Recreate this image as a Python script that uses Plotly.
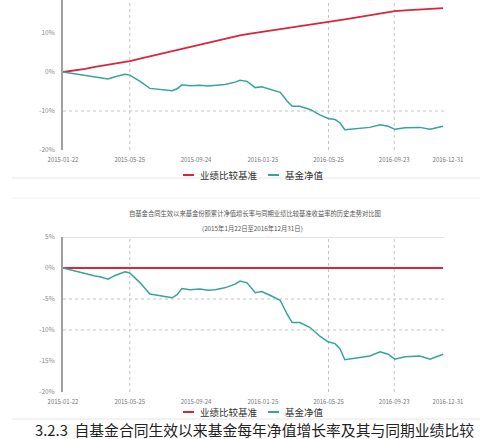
import plotly.graph_objects as go

# ---------------- data ----------------
dates = [
    "2015-01-22", "2015-02-04", "2015-02-13", "2015-03-04", "2015-03-22", "2015-03-31",
    "2015-04-15", "2015-04-28", "2015-05-16", "2015-05-25", "2015-06-13", "2015-07-01",
    "2015-07-20", "2015-08-11", "2015-08-20", "2015-08-29", "2015-09-13", "2015-10-01",
    "2015-10-16", "2015-10-29", "2015-11-16", "2015-12-05", "2015-12-14", "2015-12-27",
    "2016-01-11", "2016-01-23", "2016-02-07", "2016-02-26", "2016-03-10", "2016-03-19",
    "2016-04-02", "2016-04-21", "2016-05-09", "2016-05-24", "2016-06-06", "2016-06-15",
    "2016-06-24", "2016-07-13", "2016-08-09", "2016-08-28", "2016-09-12", "2016-09-24",
    "2016-10-13", "2016-11-09", "2016-11-28", "2016-12-22",
]
benchmark = [
    0.0, 0.2, 0.4, 0.8, 1.3, 1.5, 1.8, 2.1, 2.6, 2.8, 3.4, 4.0,
    4.6, 5.3, 5.7, 6.0, 6.4, 7.0, 7.5, 7.9, 8.5, 9.1, 9.4, 9.7,
    10.0, 10.3, 10.6, 11.0, 11.3, 11.5, 11.8, 12.2, 12.5, 12.8, 13.1, 13.3,
    13.5, 13.9, 14.5, 15.0, 15.3, 15.6, 15.8, 16.1, 16.3, 16.4,
]
fund = [
    0.0, -0.3, -0.5, -0.9, -1.3, -1.4, -1.8, -1.2, -0.6, -0.8, -2.4, -4.2,
    -4.5, -4.8, -4.3, -3.3, -3.5, -3.4, -3.6, -3.5, -3.2, -2.6, -2.1, -2.4,
    -4.0, -3.8, -4.4, -5.2, -7.5, -8.8, -8.8, -9.6, -11.0, -11.9, -12.2, -13.0,
    -14.8, -14.6, -14.2, -13.5, -13.9, -14.7, -14.3, -14.2, -14.7, -13.9,
]
benchmark_bottom = [0.0] * 46  # flat benchmark line at 0% in the lower chart

x_range = ["2015-01-22", "2016-12-31"]
tick_dates = ["2015-01-22", "2015-05-25", "2015-09-24", "2016-01-25",
              "2016-05-25", "2016-09-23", "2016-12-31"]
vgrid_dates = ["2015-05-25", "2016-05-25", "2016-09-23"]

top_ticks = [-20, -10, 0, 10]
top_tick_text = ["-20%", "-10%", "0%", "10%"]
top_hgrid = [-10]
bottom_ticks = [-20, -15, -10, -5, 0, 5]
bottom_tick_text = ["-20%", "-15%", "-10%", "-5%", "0%", "5%"]
bottom_hgrid = [-5, -10]

legend_labels = ["业绩比较基准", "基金净值"]
title_lines = ["自基金合同生效以来基金份额累计净值增长率与同期业绩比较基准收益率的历史走势对比图",
               "(2015年1月22日至2016年12月31日)"]
caption = "3.2.3  自基金合同生效以来基金每年净值增长率及其与同期业绩比较"

RED = "#d9253c"
TEAL = "#35a597"
FONT = "Noto Sans CJK SC"
W, H = 480, 439

def px(x):
    return x / W

def py(y):
    return 1 - y / H

fig = go.Figure()
fig.add_trace(go.Scatter(x=dates, y=benchmark, mode="lines", line=dict(color=RED, width=1.8),
                         name=legend_labels[0], xaxis="x", yaxis="y"))
fig.add_trace(go.Scatter(x=dates, y=fund, mode="lines", line=dict(color=TEAL, width=1.5),
                         name=legend_labels[1], xaxis="x", yaxis="y"))
fig.add_trace(go.Scatter(x=dates, y=benchmark_bottom, mode="lines", line=dict(color=RED, width=2),
                         name=legend_labels[0], xaxis="x2", yaxis="y2"))
fig.add_trace(go.Scatter(x=dates, y=fund, mode="lines", line=dict(color=TEAL, width=1.5),
                         name=legend_labels[1], xaxis="x2", yaxis="y2"))

xdom = [px(63), px(448)]
xcommon = dict(domain=xdom, range=x_range, type="date", tickvals=tick_dates,
               tickformat="%Y-%m-%d", showgrid=False, zeroline=False, showline=False,
               ticks="", tickfont=dict(size=6, color="#777", family=FONT),
               ticklabelstandoff=5, automargin=False)
ycommon = dict(showgrid=False, zeroline=False, showline=True, linecolor="#a0a0a0", linewidth=2,
               ticks="", tickfont=dict(size=6.5, color="#888", family=FONT),
               ticklabelstandoff=5, automargin=False)

fig.update_layout(
    width=W, height=H, margin=dict(l=0, r=0, t=0, b=0, autoexpand=False),
    paper_bgcolor="white", plot_bgcolor="white", showlegend=False,
    font=dict(family=FONT),
    xaxis=dict(**xcommon, anchor="y"),
    yaxis=dict(**ycommon, domain=[py(150), 1.0], range=[-20, 18.46],
               tickvals=top_ticks, ticktext=top_tick_text, anchor="x"),
    xaxis2=dict(**xcommon, anchor="y2"),
    yaxis2=dict(**ycommon, domain=[py(392), py(237)], range=[-20, 5],
                tickvals=bottom_ticks, ticktext=bottom_tick_text, anchor="x2"),
)

shapes = []
grid_line = dict(color="#c4c4c4", width=1, dash="dot")
for xa, ya in (("x", "y"), ("x2", "y2")):
    for d in vgrid_dates:
        shapes.append(dict(type="line", xref=xa, yref=ya + " domain", x0=d, x1=d, y0=0, y1=1,
                           line=grid_line, layer="below"))
for v in top_hgrid:
    shapes.append(dict(type="line", xref="x domain", yref="y", x0=0, x1=0.99, y0=v, y1=v,
                       line=grid_line, layer="below"))
for v in bottom_hgrid:
    shapes.append(dict(type="line", xref="x2 domain", yref="y2", x0=0, x1=0.99, y0=v, y1=v,
                       line=grid_line, layer="below"))
# solid top border of the lower chart
shapes.append(dict(type="line", xref="x2 domain", yref="y2", x0=0, x1=0.99, y0=5, y1=5,
                   line=dict(color="#c8c8c8", width=1), layer="below"))
# light separators of the screenshot panels
for yy, col in ((178, "#e6e6e6"), (198, "#f0f0f0"), (419, "#e6e6e6")):
    shapes.append(dict(type="line", xref="paper", yref="paper", x0=px(12), x1=1,
                       y0=py(yy), y1=py(yy), line=dict(color=col, width=1)))

annotations = []
# manual legends
for ly in (175, 412):
    shapes.append(dict(type="line", xref="paper", yref="paper", x0=px(183), x1=px(194),
                       y0=py(ly), y1=py(ly), line=dict(color=RED, width=2)))
    shapes.append(dict(type="line", xref="paper", yref="paper", x0=px(268), x1=px(279),
                       y0=py(ly), y1=py(ly), line=dict(color=TEAL, width=2)))
    annotations.append(dict(xref="paper", yref="paper", x=px(198), y=py(ly), text=legend_labels[0],
                            showarrow=False, xanchor="left", yanchor="middle",
                            font=dict(size=9.5, color="#333", family=FONT)))
    annotations.append(dict(xref="paper", yref="paper", x=px(283), y=py(ly), text=legend_labels[1],
                            showarrow=False, xanchor="left", yanchor="middle",
                            font=dict(size=9.5, color="#333", family=FONT)))
# lower chart title
annotations.append(dict(xref="paper", yref="paper", x=px(255), y=py(213), text=title_lines[0],
                        showarrow=False, xanchor="center", yanchor="middle",
                        font=dict(size=6.3, color="#555", family=FONT)))
annotations.append(dict(xref="paper", yref="paper", x=px(252), y=py(228), text=title_lines[1],
                        showarrow=False, xanchor="center", yanchor="middle",
                        font=dict(size=6.3, color="#555", family=FONT)))
# caption
annotations.append(dict(xref="paper", yref="paper", x=px(33), y=py(429), text=caption,
                        showarrow=False, xanchor="left", yanchor="middle",
                        font=dict(size=14.8, color="#222", family=FONT)))

fig.update_layout(shapes=shapes, annotations=annotations)
fig.write_html("out.html", config={"displayModeBar": False},
               post_script="document.body.style.margin='0';document.body.style.padding='0';")
